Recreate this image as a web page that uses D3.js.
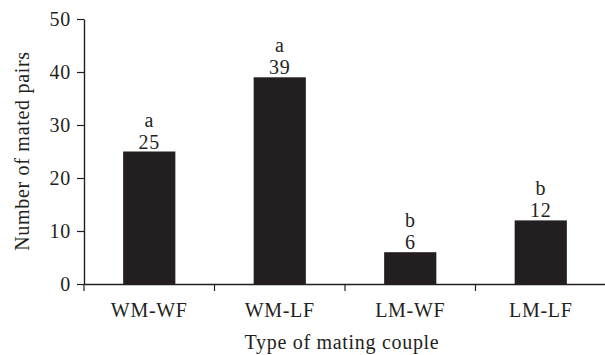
<!DOCTYPE html>
<html>
<head>
<script src="https://cdn.jsdelivr.net/npm/d3@7"></script>
<style>
  body { margin: 0; background: #fff; }
  text { font-family: "Liberation Serif", serif; fill: #231f20; letter-spacing: 0.7px; }
</style>
</head>
<body>
<div id="chart"></div>
<script>

var categories = ["WM-WF", "WM-LF", "LM-WF", "LM-LF"];
var pairs = [25, 39, 6, 12];
var groups = ["a", "a", "b", "b"];
var yTicks = [0, 10, 20, 30, 40, 50];

var width = 605, height = 355;
var ink = "#231f20";
var fontSize = "20px";

var svg = d3.select("#chart").append("svg")
    .attr("width", width)
    .attr("height", height);

var x = d3.scaleBand()
    .domain(categories)
    .range([84, 606])
    .paddingInner(0.6)
    .paddingOuter(0.3);

var y = d3.scaleLinear()
    .domain([0, 50])
    .range([284, 19]);

// y axis
var yAxis = svg.append("g")
    .attr("transform", "translate(84,0)")
    .call(d3.axisLeft(y).tickValues(yTicks).tickSize(7).tickPadding(6).tickSizeOuter(0));
yAxis.select(".domain").attr("stroke", ink).attr("stroke-width", 1.4);
yAxis.selectAll(".tick line").attr("stroke", ink).attr("stroke-width", 1.2);
yAxis.selectAll(".tick text")
    .attr("font-family", "Liberation Serif, serif")
    .attr("font-size", fontSize)
    .attr("fill", ink);

// x axis (labels only, boundary ticks drawn below)
var xAxis = svg.append("g")
    .attr("transform", "translate(0,284)")
    .call(d3.axisBottom(x).tickSize(0).tickPadding(19).tickSizeOuter(0));
xAxis.select(".domain").attr("stroke", ink).attr("stroke-width", 1.4);
xAxis.selectAll(".tick text")
    .attr("font-family", "Liberation Serif, serif")
    .attr("font-size", fontSize)
    .attr("fill", ink);

var gap = x.step() * x.paddingOuter();
svg.append("g").selectAll("line")
    .data(categories)
    .enter().append("line")
    .attr("x1", function (d) { return x(d) - gap; })
    .attr("x2", function (d) { return x(d) - gap; })
    .attr("y1", 284)
    .attr("y2", 291)
    .attr("stroke", ink)
    .attr("stroke-width", 1.2);

// bars
svg.append("g").selectAll("rect")
    .data(pairs)
    .enter().append("rect")
    .attr("x", function (d, i) { return x(categories[i]); })
    .attr("width", x.bandwidth())
    .attr("y", function (d) { return y(d); })
    .attr("height", function (d) { return y(0) - y(d); })
    .attr("fill", ink);

// value labels
svg.append("g").selectAll("text")
    .data(pairs)
    .enter().append("text")
    .attr("x", function (d, i) { return x(categories[i]) + x.bandwidth() / 2; })
    .attr("y", function (d) { return y(d) - 3; })
    .attr("text-anchor", "middle")
    .attr("font-size", fontSize)
    .text(function (d) { return d; });

svg.append("g").selectAll("text")
    .data(groups)
    .enter().append("text")
    .attr("x", function (d, i) { return x(categories[i]) + x.bandwidth() / 2; })
    .attr("y", function (d, i) { return y(pairs[i]) - 25; })
    .attr("text-anchor", "middle")
    .attr("font-size", fontSize)
    .text(function (d) { return d; });

// axis titles
svg.append("text")
    .attr("x", 342)
    .attr("y", 349)
    .attr("text-anchor", "middle")
    .attr("font-size", fontSize)
    .text("Type of mating couple");

svg.append("text")
    .attr("transform", "translate(29,151) rotate(-90)")
    .attr("text-anchor", "middle")
    .attr("font-size", fontSize)
    .text("Number of mated pairs");

</script>
</body>
</html>
